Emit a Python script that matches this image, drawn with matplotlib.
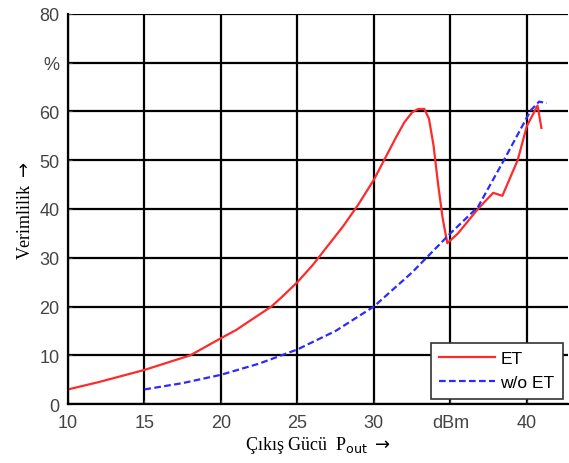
import matplotlib.pyplot as plt

# ET curve (red)
et_x = [10, 12, 15, 18, 20, 21, 22, 23.3, 24, 25, 26, 27, 28, 29, 30, 30.5, 31, 31.5, 32, 32.5,
        32.9, 33.3, 33.6, 33.9, 34.2, 34.5, 34.8, 35.5, 36.8, 37.8, 38.4, 39.4, 40.0, 40.7, 40.95]
et_y = [3, 4.5, 7, 10, 13.5, 15.2, 17.3, 20, 22, 25, 28.5, 32.5, 36.5, 41, 46, 49, 52, 55, 57.8, 59.8,
        60.5, 60.5, 58.5, 53, 45, 38, 33, 35, 40, 43.3, 42.7, 50, 57, 61.2, 56.6]

# w/o ET curve (blue dashed)
wo_x = [15, 17.5, 20, 22.5, 25, 27.5, 30, 32.5, 35, 36.8, 38.5, 40.25, 40.8, 41.3]
wo_y = [3, 4.3, 6, 8.3, 11.2, 15, 20, 27, 35, 40.4, 50, 60.2, 62, 61.7]

xticks = [10, 15, 20, 25, 30, 35, 40]
xtick_labels = ['10', '15', '20', '25', '30', 'dBm', '40']
yticks = [0, 10, 20, 30, 40, 50, 60, 70, 80]
ytick_labels = ['0', '10', '20', '30', '40', '50', '60', '%', '80']

plt.rcParams['font.family'] = ['Liberation Sans', 'DejaVu Sans']

fig = plt.figure(figsize=(5.69, 4.64), dpi=100)
ax = fig.add_axes([0.1195, 0.127, 0.879, 0.841])

ax.plot(et_x, et_y, color='#ff2a2a', lw=1.6, label='ET')
ax.plot(wo_x, wo_y, color='#2b2bff', lw=1.6, ls=(0, (3, 1.5)), label='w/o ET')

ax.set_xlim(10, 42.7)
ax.set_ylim(0, 80)
ax.set_xticks(xticks)
ax.set_xticklabels(xtick_labels)
ax.set_yticks(yticks)
ax.set_yticklabels(ytick_labels)
ax.tick_params(direction='in', length=3, labelsize=13, colors='#444444', labelcolor='#444444')
ax.tick_params(axis='x', pad=7)
ax.tick_params(axis='y', pad=6)
ax.grid(True, color='black', lw=1.6)

for side in ['top', 'right']:
    ax.spines[side].set_visible(False)
for side in ['left', 'bottom']:
    ax.spines[side].set_linewidth(1.6)

ax.set_xlabel(r'Çıkış Gücü  P$_{\rm out}$ $\rightarrow$', family=['Liberation Serif', 'DejaVu Serif'],
              fontsize=13, labelpad=2)
ax.set_ylabel(r'Verimlilik $\rightarrow$', family=['Liberation Serif', 'DejaVu Serif'],
              fontsize=13, labelpad=4)

leg = ax.legend(loc='lower right', fontsize=12.5, fancybox=False, framealpha=1,
                edgecolor='#333333', borderaxespad=0.3, handlelength=3.2, borderpad=0.5,
                handletextpad=0.3)
leg.get_frame().set_linewidth(1.2)

fig.savefig('out.png', dpi=100)
